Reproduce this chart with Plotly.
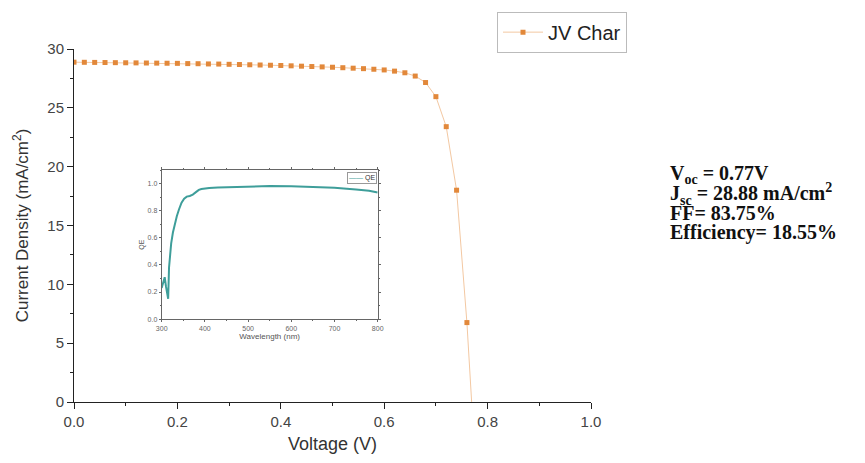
import plotly.graph_objects as go

# ---- JV characteristic data ----
voltage = [0.00, 0.02, 0.04, 0.06, 0.08, 0.10, 0.12, 0.14, 0.16, 0.18,
           0.20, 0.22, 0.24, 0.26, 0.28, 0.30, 0.32, 0.34, 0.36, 0.38,
           0.40, 0.42, 0.44, 0.46, 0.48, 0.50, 0.52, 0.54, 0.56, 0.58,
           0.60, 0.62, 0.64, 0.66, 0.68, 0.70, 0.72, 0.74, 0.76, 0.78]
current = [28.88, 28.87, 28.86, 28.85, 28.84, 28.83, 28.82, 28.81, 28.80, 28.79,
           28.78, 28.76, 28.75, 28.73, 28.72, 28.70, 28.68, 28.66, 28.64, 28.62,
           28.60, 28.57, 28.54, 28.51, 28.48, 28.45, 28.41, 28.37, 28.33, 28.28,
           28.22, 28.12, 27.98, 27.70, 27.15, 25.95, 23.40, 18.00, 6.75, -8.0]

# ---- QE inset data ----
wavelength = [300, 303, 307, 310, 313, 315, 317, 319, 322, 326, 330, 335, 340, 346,
              352, 358, 365, 372, 380, 386, 392, 398, 410, 430, 460, 500, 550,
              600, 650, 700, 750, 780, 800]
qe = [0.23, 0.26, 0.31, 0.24, 0.16, 0.15, 0.38, 0.47, 0.56, 0.64, 0.70, 0.76, 0.81,
      0.86, 0.89, 0.905, 0.91, 0.92, 0.94, 0.955, 0.962, 0.965, 0.968, 0.972, 0.976,
      0.979, 0.983, 0.982, 0.978, 0.971, 0.958, 0.948, 0.935]

# ---- Device parameters text ----
params = ["V<sub>oc</sub> = 0.77V",
          "J<sub>sc</sub> = 28.88 mA/cm<sup>2</sup>",
          "FF= 83.75%",
          "Efficiency= 18.55%"]

FONT = "Arial, Liberation Sans, sans-serif"
SERIF = "Times New Roman, Liberation Serif, serif"
TEAL = "#3E9E9A"

fig = go.Figure()

fig.add_trace(go.Scatter(
    x=voltage, y=current, mode="lines+markers", name="JV Char",
    line=dict(color="#F3C8A2", width=1),
    marker=dict(color="#E2883A", size=5, symbol="square"),
    showlegend=True, legend="legend",
))

fig.add_trace(go.Scatter(
    x=wavelength, y=qe, mode="lines", name="QE",
    line=dict(color=TEAL, width=2),
    xaxis="x2", yaxis="y2", showlegend=False,
))

# inset domains (paper coords)
ix0, ix1 = 0.1696, 0.5874
iy0, iy1 = 0.2348, 0.6565

fig.update_layout(
    width=865, height=463,
    showlegend=True,
    margin=dict(l=74, r=274, t=46, b=58),
    paper_bgcolor="white", plot_bgcolor="white",
    font=dict(family=FONT, color="#333"),
    xaxis=dict(
        range=[0, 1.0], dtick=0.2, tickformat=".1f",
        showgrid=False, zeroline=False, showline=True, linecolor="#222", linewidth=1,
        ticks="outside", ticklen=6, tickcolor="#222",
        minor=dict(dtick=0.1, ticks="outside", ticklen=3, tickcolor="#222"),
        tickfont=dict(size=15, color="#444"),
        title=dict(text="Voltage (V)", font=dict(size=18, color="#333"), standoff=8),
    ),
    yaxis=dict(
        range=[0, 30], dtick=5,
        showgrid=False, zeroline=False, showline=True, linecolor="#222", linewidth=1,
        ticks="outside", ticklen=6, tickcolor="#222",
        minor=dict(dtick=2.5, ticks="outside", ticklen=3, tickcolor="#222"),
        tickfont=dict(size=15, color="#444"),
        title=dict(text="Current Density (mA/cm<sup>2</sup>)", font=dict(size=17, color="#333"), standoff=14),
    ),
    xaxis2=dict(
        domain=[ix0, ix1], anchor="y2", range=[300, 800], dtick=100,
        showgrid=False, zeroline=False, showline=True, mirror="ticks",
        linecolor="#666", linewidth=1, ticks="outside", ticklen=2, tickcolor="#666",
        minor=dict(dtick=50, ticks="outside", ticklen=1, tickcolor="#666"),
        tickfont=dict(size=7, color="#666"),
        title=dict(text="Wavelength (nm)", font=dict(size=8, color="#555"), standoff=2),
    ),
    yaxis2=dict(
        domain=[iy0, iy1], anchor="x2", range=[0, 1.1], dtick=0.2, tickformat=".1f",
        showgrid=False, zeroline=False, showline=True, mirror="ticks",
        linecolor="#666", linewidth=1, ticks="outside", ticklen=2, tickcolor="#666",
        minor=dict(dtick=0.1, ticks="outside", ticklen=1, tickcolor="#666"),
        tickfont=dict(size=7, color="#666"),
        title=dict(text="QE", font=dict(size=7, color="#555"), standoff=2),
    ),
    legend=dict(
        x=(497 - 74) / 517, y=(405 - 8) / 359, xanchor="left", yanchor="top",
        bordercolor="#BBB", borderwidth=1, bgcolor="white",
        font=dict(size=20, color="#222"),
        itemwidth=40,
    ),
)

# small inset legend box for QE (drawn as a bordered annotation)
fig.add_annotation(
    text="<span style='color:%s'>——</span> QE" % TEAL,
    xref="paper", yref="paper", x=ix1 - 0.002, y=iy1 - 0.006,
    xanchor="right", yanchor="top", showarrow=False,
    font=dict(size=7, color="#333"), bordercolor="#999", borderwidth=1,
    borderpad=1, bgcolor="white",
)

ys = [174, 193.5, 213, 232.5]
for txt, py in zip(params, ys):
    fig.add_annotation(
        text="<b>" + txt + "</b>", xref="paper", yref="paper",
        x=(668 - 74) / 517, y=(405 - py) / 359, xanchor="left", yanchor="middle",
        showarrow=False, font=dict(family=SERIF, size=20, color="#111"),
    )

fig.write_html("out.html")
